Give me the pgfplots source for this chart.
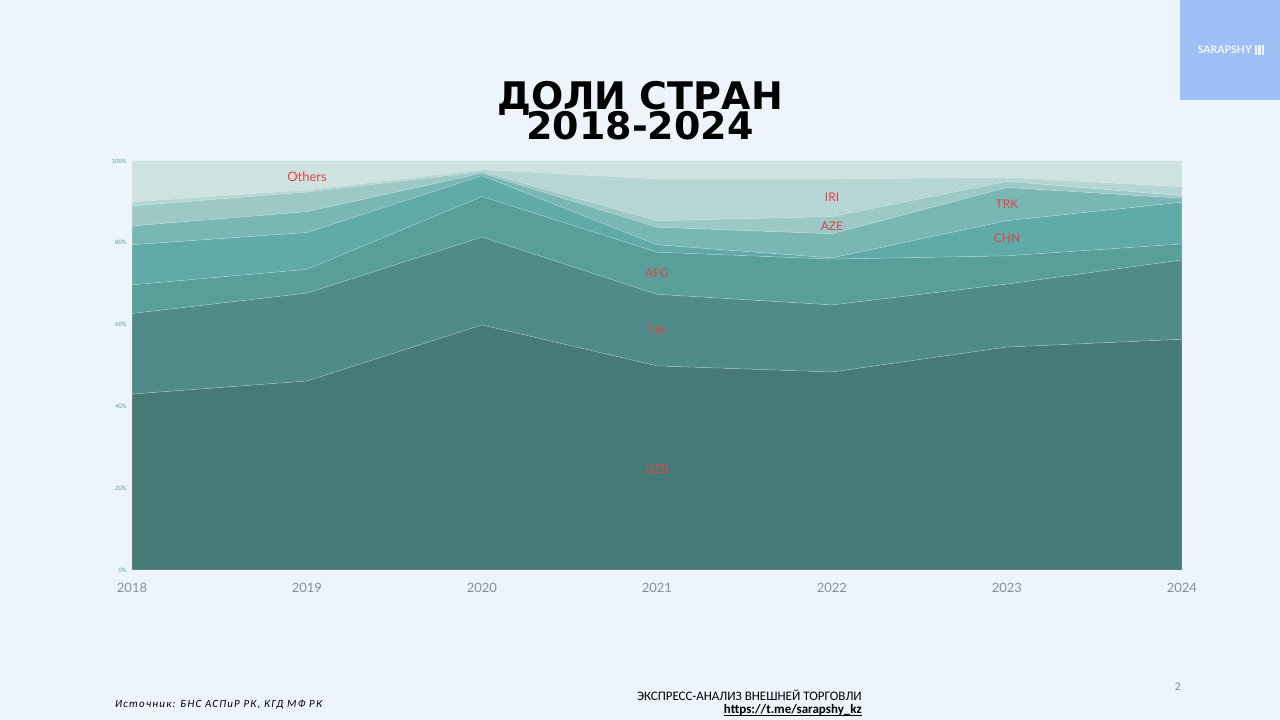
\documentclass[border=0pt]{standalone}
\usepackage{fontspec}
\setmainfont{Carlito}
\newfontfamily\titlefont{DejaVu Sans}
\newfontfamily\labfont{Lato}
\usepackage{pgfplots}
\usepackage{pgfplotstable}
\pgfplotsset{compat=1.18}
\definecolor{bg}{HTML}{EEF4FC}
\definecolor{logo}{HTML}{9EC0F7}
\definecolor{cUZB}{HTML}{467A76}
\definecolor{cTJK}{HTML}{4F8C89}
\definecolor{cAFG}{HTML}{589E99}
\definecolor{cCHN}{HTML}{60AAA7}
\definecolor{cTRK}{HTML}{78B7B4}
\definecolor{cAZE}{HTML}{9CC8C6}
\definecolor{cIRI}{HTML}{B6D5D5}
\definecolor{cOTH}{HTML}{CEE2E0}
\definecolor{lab}{HTML}{DC4650}
\definecolor{ytk}{HTML}{5AA5A0}
\definecolor{xtk}{HTML}{8A8F96}
\tikzset{lbl/.style={text=lab, font=\labfont\fontsize{12}{12}\selectfont, inner sep=0pt}}

\pgfplotstableread{
year UZB TJK AFG CHN TRK AZE IRI OTH
2018 43.0 19.7 7.0 9.8 4.6 4.9 1.0 10.0
2019 46.2 21.5 5.8 9.0 5.1 4.8 0.5 7.1
2020 59.9 21.5 9.9 5.1 0.6 0.4 0.5 2.1
2021 49.9 17.5 10.3 1.8 4.3 1.6 10.2 4.4
2022 48.4 16.4 11.2 0.3 5.9 4.2 9.2 4.4
2023 54.5 15.4 6.9 8.6 8.1 1.5 1.0 4.0
2024 56.4 19.4 3.9 10.2 1.0 0.6 2.2 6.3
}\data

\begin{document}
\begin{tikzpicture}[x=1pt,y=1pt]
\useasboundingbox (0,0) rectangle (1280,720);
\fill[bg] (0,0) rectangle (1280,720);
\fill[logo] (1180,620) rectangle (1280,720);
\node[white, opacity=0.9, font=\labfont\bfseries\fontsize{10.5}{10.5}\selectfont, anchor=east, inner sep=0pt] at (1252,670) {SARAPSHY};
\fill[white, opacity=0.8] (1254.5,665) rectangle (1257,675);
\fill[white, opacity=0.8] (1258,665) rectangle (1260.5,675);
\fill[white, opacity=0.8] (1261.5,665) rectangle (1264,675);

\node[anchor=base, inner sep=0pt, align=center, font=\titlefont\bfseries\fontsize{38}{30}\selectfont] at (640,580) {ДОЛИ СТРАН\\[-5pt]2018-2024};

\begin{axis}[at={(132pt,150pt)}, anchor=south west, scale only axis,
  width=1050pt, height=409pt,
  xmin=2018, xmax=2024, ymin=0, ymax=100,
  axis line style={draw=none}, major tick length=0pt,
  stack plots=y,
  xtick={2018,2019,...,2024},
  /pgf/number format/1000 sep={},
  /pgf/number format/assume math mode=true,
  xticklabel style={font=\labfont\fontsize{13}{13}\selectfont, text=xtk, anchor=north, inner sep=0pt, yshift=-13pt},
  ytick={0,20,40,60,80,100},
  yticklabels={0\%,20\%,40\%,60\%,80\%,100\%},
  yticklabel style={font=\labfont\fontsize{6}{6}\selectfont, text=ytk, anchor=east, inner sep=0pt, xshift=-5pt},
  clip=false]
\addplot[fill=cUZB, draw=white, draw opacity=0.25, line width=0.6pt] table[x=year,y=UZB]{\data} \closedcycle;
\addplot[fill=cTJK, draw=white, draw opacity=0.25, line width=0.6pt] table[x=year,y=TJK]{\data} \closedcycle;
\addplot[fill=cAFG, draw=white, draw opacity=0.25, line width=0.6pt] table[x=year,y=AFG]{\data} \closedcycle;
\addplot[fill=cCHN, draw=white, draw opacity=0.25, line width=0.6pt] table[x=year,y=CHN]{\data} \closedcycle;
\addplot[fill=cTRK, draw=white, draw opacity=0.25, line width=0.6pt] table[x=year,y=TRK]{\data} \closedcycle;
\addplot[fill=cAZE, draw=white, draw opacity=0.25, line width=0.6pt] table[x=year,y=AZE]{\data} \closedcycle;
\addplot[fill=cIRI, draw=white, draw opacity=0.25, line width=0.6pt] table[x=year,y=IRI]{\data} \closedcycle;
\addplot[fill=cOTH, draw=none] table[x=year,y=OTH]{\data} \closedcycle;
\end{axis}

\node[lbl, font=\labfont\fontsize{13}{13}\selectfont] at (307,543) {Others};
\node[lbl] at (832,523) {IRI};
\node[lbl] at (832,494) {AZE};
\node[lbl] at (1007,516) {TRK};
\node[lbl] at (1007,482) {CHN};
\node[lbl] at (657,447) {AFG};
\node[lbl] at (657,390) {TJK};
\node[lbl] at (657,251) {UZB};

\node[anchor=base west, inner sep=0pt, font=\itshape\fontsize{11}{11}\selectfont\addfontfeature{LetterSpace=11}] at (115,12) {Источник: БНС АСПиР РК, КГД МФ РК};
\node[anchor=base east, inner sep=0pt, font=\fontsize{13}{13}\selectfont] at (862,19) {ЭКСПРЕСС-АНАЛИЗ ВНЕШНЕЙ ТОРГОВЛИ};
\node[anchor=base east, inner sep=0pt, font=\bfseries\fontsize{13}{13}\selectfont] (url) at (862,6) {https://t.me/sarapshy\_kz};
\draw[line width=0.8pt] ([yshift=-1.5pt]url.base west) -- ([yshift=-1.5pt]url.base east);
\node[inner sep=0pt, text=xtk, font=\fontsize{12}{12}\selectfont] at (1178,33) {2};
\end{tikzpicture}
\end{document}
